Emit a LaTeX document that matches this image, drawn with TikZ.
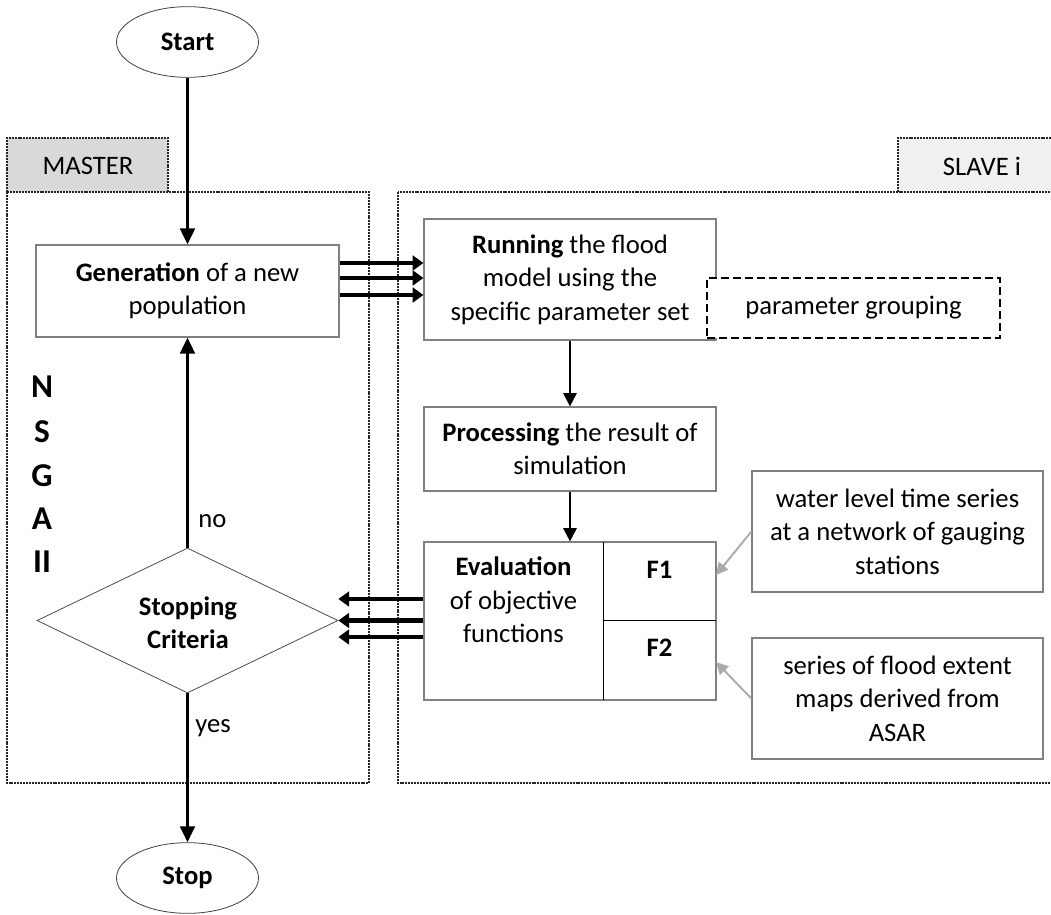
\documentclass[tikz,border=0pt]{standalone}
\usepackage{fontspec}
\setmainfont{Carlito}
\usetikzlibrary{shapes.geometric,arrows.meta}
\definecolor{boxgray}{RGB}{128,128,128}
\definecolor{mastertab}{RGB}{217,217,217}
\definecolor{slavetab}{RGB}{240,240,240}
\definecolor{feedgray}{RGB}{170,170,170}
\tikzset{
  txt/.style={inner sep=0pt, align=center, font=\fontsize{20}{25}\selectfont},
  boldtxt/.style={txt, font=\bfseries\fontsize{20}{25}\selectfont},
  box/.style={draw=boxgray, line width=0.9pt, fill=white, inner sep=0pt, align=center, font=\fontsize{20}{25}\selectfont},
  term/.style={ellipse, draw=black!75, line width=0.6pt, fill=white, minimum width=106.5pt, minimum height=53pt, inner sep=0pt, font=\bfseries\fontsize{20}{25}\selectfont},
  panel/.style={draw=black!85, line width=1.1pt, dash pattern=on 1.5pt off 0.7pt},
  flow/.style={line width=2.2pt, -{Triangle[length=12pt,width=11pt]}},
  flowthin/.style={line width=1.6pt, -{Triangle[length=10pt,width=10pt]}},
  fat/.style={line width=3.2pt, -{Triangle[length=8pt,width=11pt]}},
  feed/.style={draw=feedgray, line width=1.4pt, -{Triangle[length=9pt,width=9pt]}},
  nsga/.style={inner sep=0pt, font=\bfseries\fontsize{25}{28}\selectfont}
}
\begin{document}
\begin{tikzpicture}[x=0.75pt,y=-0.75pt]
\clip (0,0) rectangle (1051,915);
\fill[white] (0,0) rectangle (1051,915);
% panels
\draw[panel, fill=mastertab] (7,192) -- (7,138) -- (168,138) -- (168,192);
\draw[panel] (7,192) rectangle (369,783);
\node[txt] (mastertxt) at (88,166) {MASTER};
\draw[panel, fill=slavetab] (898,192) -- (898,138) -- (1060,138) -- (1060,192);
\draw[panel] (398,192) rectangle (1060,783);
\node[txt] (slavetxt) at (982,166) {SLAVE i};
% NSGA II
\node[nsga] (n1) at (42,387) {N};
\node[nsga] (n2) at (42,432) {S};
\node[nsga] (n3) at (42,476) {G};
\node[nsga] (n4) at (42,519) {A};
\node[nsga] (n5) at (42,562) {II};
% terminals
\node[term] (start) at (187.5,42) {Start};
\node[term] (stop) at (187.5,878) {Stop};
% master boxes
\node[box, minimum width=227.25pt, minimum height=69pt] (gen) at (187.5,291) {\textbf{Generation} of a new\\population};
\node[diamond, draw=black!70, line width=0.6pt, fill=white, minimum width=225.75pt, minimum height=108.75pt, inner sep=0pt] (dia) at (187.5,620.5) {};
\node[boldtxt] (diatxt) at (188,623) {Stopping\\Criteria};
% slave boxes
\node[box, minimum width=219pt, minimum height=90.75pt] (run) at (570,279.5) {\textbf{Running} the flood\\model using the\\specific parameter set};
\node[box, draw=black, line width=1.5pt, dash pattern=on 6pt off 3pt, minimum width=219.75pt, minimum height=45pt] (param) at (853.5,308) {parameter grouping};
\node[box, minimum width=219pt, minimum height=63pt] (proc) at (570,449) {\textbf{Processing} the result of\\simulation};
\node[box, minimum width=219pt, minimum height=118.5pt] (eval) at (570,621) {};
\draw[black, line width=0.7pt] (603,542) -- (603,700);
\draw[black, line width=0.7pt] (603,620) -- (716,620);
\node[txt] (evaltxt) at (513.5,600) {\textbf{Evaluation}\\of objective\\functions};
\node[boldtxt] (f1) at (659.5,570) {F1};
\node[boldtxt] (f2) at (659.5,648) {F2};
\node[box, minimum width=218.25pt, minimum height=90.75pt] (water) at (897.5,531.5) {water level time series\\at a network of gauging\\stations};
\node[box, minimum width=218.25pt, minimum height=90.75pt] (series) at (897.5,698.5) {series of flood extent\\maps derived from\\ASAR};
% helper coordinates
\coordinate (ya) at (0,263);
\coordinate (yb) at (0,278);
\coordinate (yc) at (0,295);
\coordinate (yd) at (0,599);
\coordinate (ye) at (0,620.5);
\coordinate (yf) at (0,637);
\coordinate (f1in) at (716,575);
\coordinate (f2in) at (716,662);
% connectors
\draw[flow] (start.south) -- (gen.north);
\draw[flow] (dia.north) -- (gen.south);
\draw[flow] (dia.south) -- (stop.north);
\draw[flowthin] (run.south) -- (proc.north);
\draw[flowthin] (proc.south) -- (eval.north);
\draw[fat] (gen.east |- ya) -- (run.west |- ya);
\draw[fat] (gen.east |- yb) -- (run.west |- yb);
\draw[fat] (gen.east |- yc) -- (run.west |- yc);
\draw[fat] (eval.west |- yd) -- (dia.east |- yd);
\draw[fat] (eval.west |- ye) -- (dia.east |- ye);
\draw[fat] (eval.west |- yf) -- (dia.east |- yf);
\draw[feed] (water.west) -- (f1in);
\draw[feed] (series.west) -- (f2in);
% labels
\node[txt, anchor=west] (nolbl) at (198,521) {no};
\node[txt, anchor=west] (yeslbl) at (195,728) {yes};
\end{tikzpicture}
\end{document}
